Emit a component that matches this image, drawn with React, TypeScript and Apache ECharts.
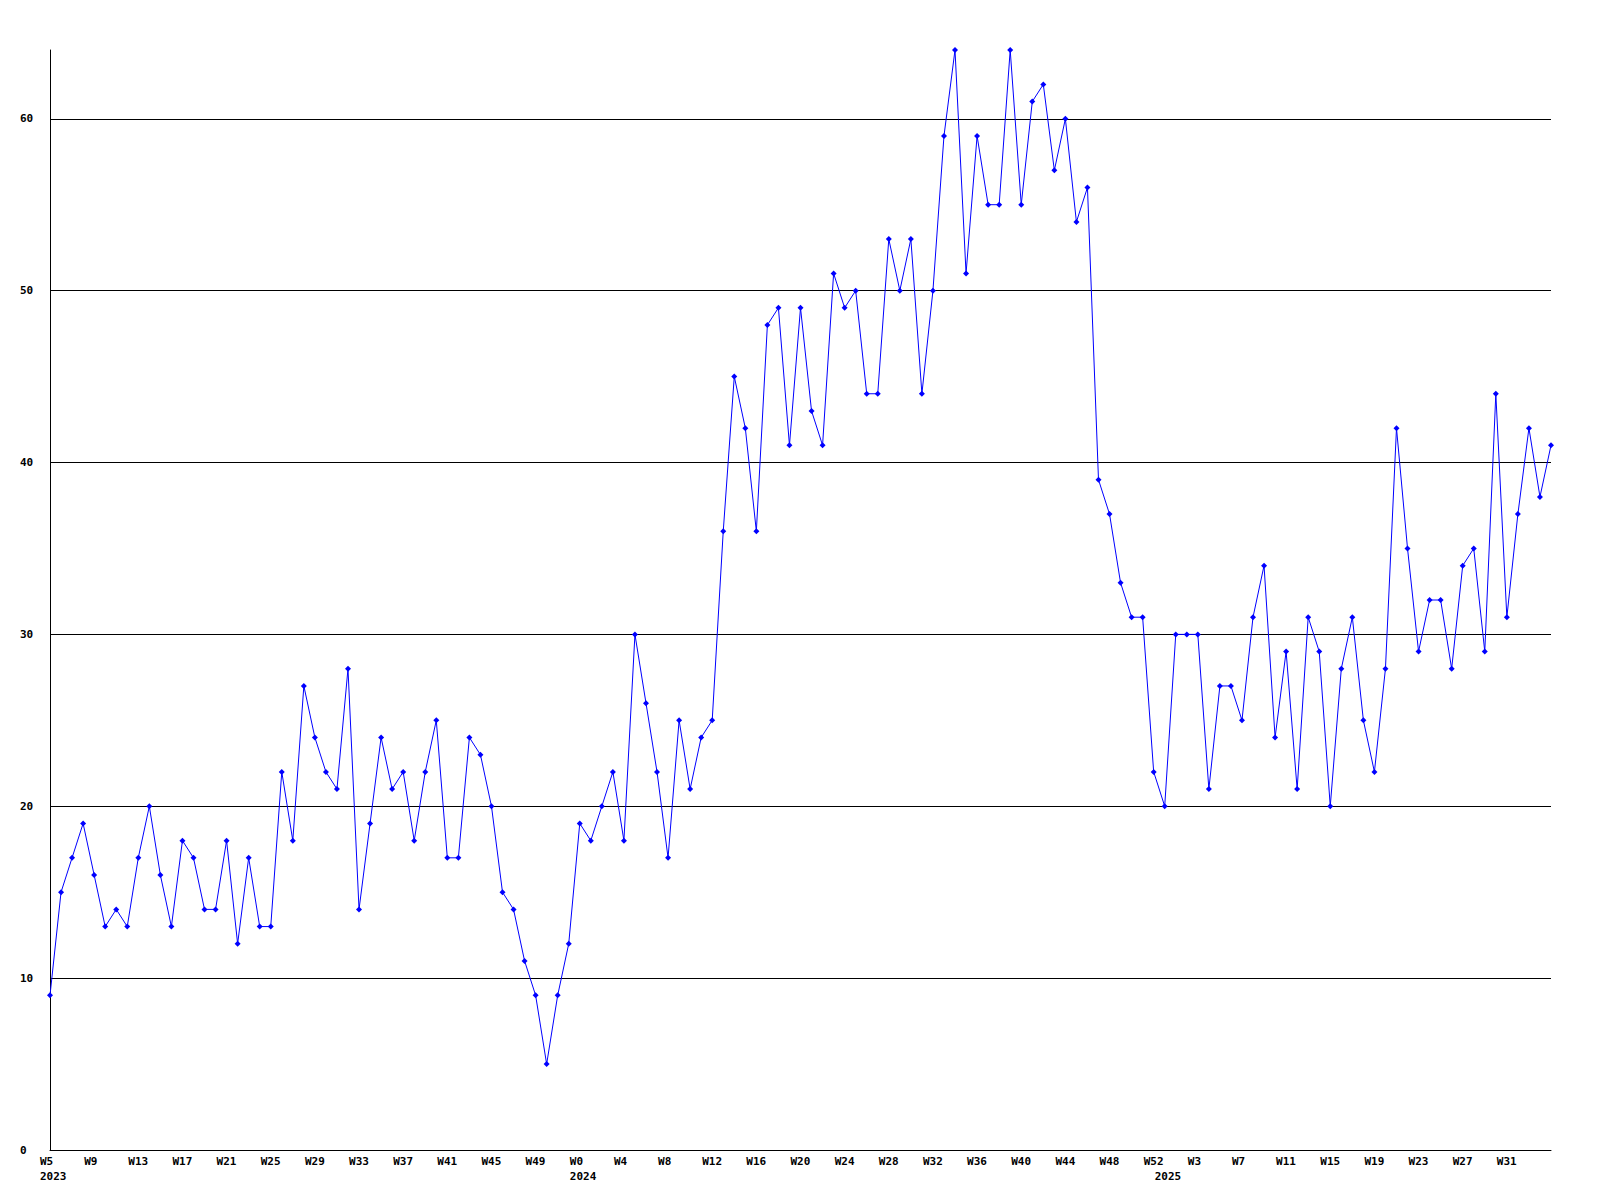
import React, { useEffect, useRef } from "react";
import * as echarts from "echarts";

// Week ranges per year (first week, last week)
const years = [2023, 2024, 2025];
const weekStart = [5, 0, 0];
const weekEnd = [52, 52, 35];

// Weekly values, in order
const values2023 = [
  9, 15, 17, 19, 16, 13, 14, 13, 17, 20, 16, 13, 18, 17, 14, 14, 18, 12, 17, 13,
  13, 22, 18, 27, 24, 22, 21, 28, 14, 19, 24, 21, 22, 18, 22, 25, 17, 17, 24, 23,
  20, 15, 14, 11, 9, 5, 9, 12,
];
const values2024 = [
  19, 18, 20, 22, 18, 30, 26, 22, 17, 25, 21, 24, 25, 36, 45, 42, 36, 48, 49, 41,
  49, 43, 41, 51, 49, 50, 44, 44, 53, 50, 53, 44, 50, 59, 64, 51, 59, 55, 55, 64,
  55, 61, 62, 57, 60, 54, 56, 39, 37, 33, 31, 31, 22,
];
const values2025 = [
  20, 30, 30, 30, 21, 27, 27, 25, 31, 34, 24, 29, 21, 31, 29, 20, 28, 31, 25, 22,
  28, 42, 35, 29, 32, 32, 28, 34, 35, 29, 44, 31, 37, 42, 38, 41,
];

const yTicks = [0, 10, 20, 30, 40, 50, 60];

const categories: string[] = [];
years.forEach((y, i) => {
  for (let w = weekStart[i]; w <= weekEnd[i]; w++) categories.push(`${y}-W${w}`);
});
const values = [...values2023, ...values2024, ...values2025];
const yearStartIdx: number[] = [];
{
  let acc = 0;
  years.forEach((_, i) => {
    yearStartIdx.push(acc);
    acc += weekEnd[i] - weekStart[i] + 1;
  });
}
const lastIdx = categories.length - 1;

const FONT = "DejaVu Sans Mono";

export default function App() {
  const ref = useRef<HTMLDivElement>(null);
  useEffect(() => {
    document.body.style.margin = "0";
    const chart = echarts.init(ref.current!, null, { renderer: "svg" });
    const labelBase = {
      fontFamily: FONT,
      fontWeight: "bold" as const,
      fontSize: 11,
      color: "#000",
    };
    chart.setOption({
      animation: false,
      backgroundColor: "#fff",
      grid: { left: 50, right: 49, top: 50, bottom: 50, containLabel: false },
      xAxis: [
        {
          type: "category",
          data: categories,
          boundaryGap: false,
          axisLine: { show: true, lineStyle: { color: "#000", width: 1 } },
          axisTick: { show: false },
          splitLine: { show: false },
          axisLabel: {
            ...labelBase,
            interval: (idx: number) => idx % 4 === 0 && idx !== lastIdx,
            formatter: (v: string) => v.split("-")[1],
            align: "left",
            padding: [0, 0, 0, -10],
            margin: 6,
          },
        },
        {
          type: "category",
          data: categories,
          boundaryGap: false,
          position: "bottom",
          offset: 15,
          axisLine: { show: false },
          axisTick: { show: false },
          splitLine: { show: false },
          axisLabel: {
            ...labelBase,
            interval: (idx: number) => yearStartIdx.includes(idx),
            formatter: (v: string) => v.split("-")[0],
            align: "left",
            padding: [0, 0, 0, -10],
            margin: 6,
          },
        },
      ],
      yAxis: {
        type: "value",
        min: 0,
        max: 64,
        interval: 10,
        axisLine: { show: true, lineStyle: { color: "#000", width: 1 } },
        axisTick: { show: false },
        splitLine: {
          show: true,
          showMaxLine: false,
          showMinLine: false,
          lineStyle: { color: "#000", width: 1 },
        },
        axisLabel: {
          ...labelBase,
          align: "left",
          margin: 30,
          showMaxLabel: false,
          formatter: (v: number) => (yTicks.includes(v) ? String(v) : ""),
        },
      },
      series: [
        {
          type: "line",
          data: values,
          xAxisIndex: 0,
          color: "#0000ff",
          lineStyle: { color: "#0000ff", width: 1 },
          itemStyle: { color: "#0000ff" },
          symbol: "diamond",
          symbolSize: 6,
          showAllSymbol: true,
        },
      ],
    });
    return () => chart.dispose();
  }, []);
  return (
    <div
      ref={ref}
      style={{ position: "absolute", left: 0, top: 0, width: 1600, height: 1200 }}
    />
  );
}
